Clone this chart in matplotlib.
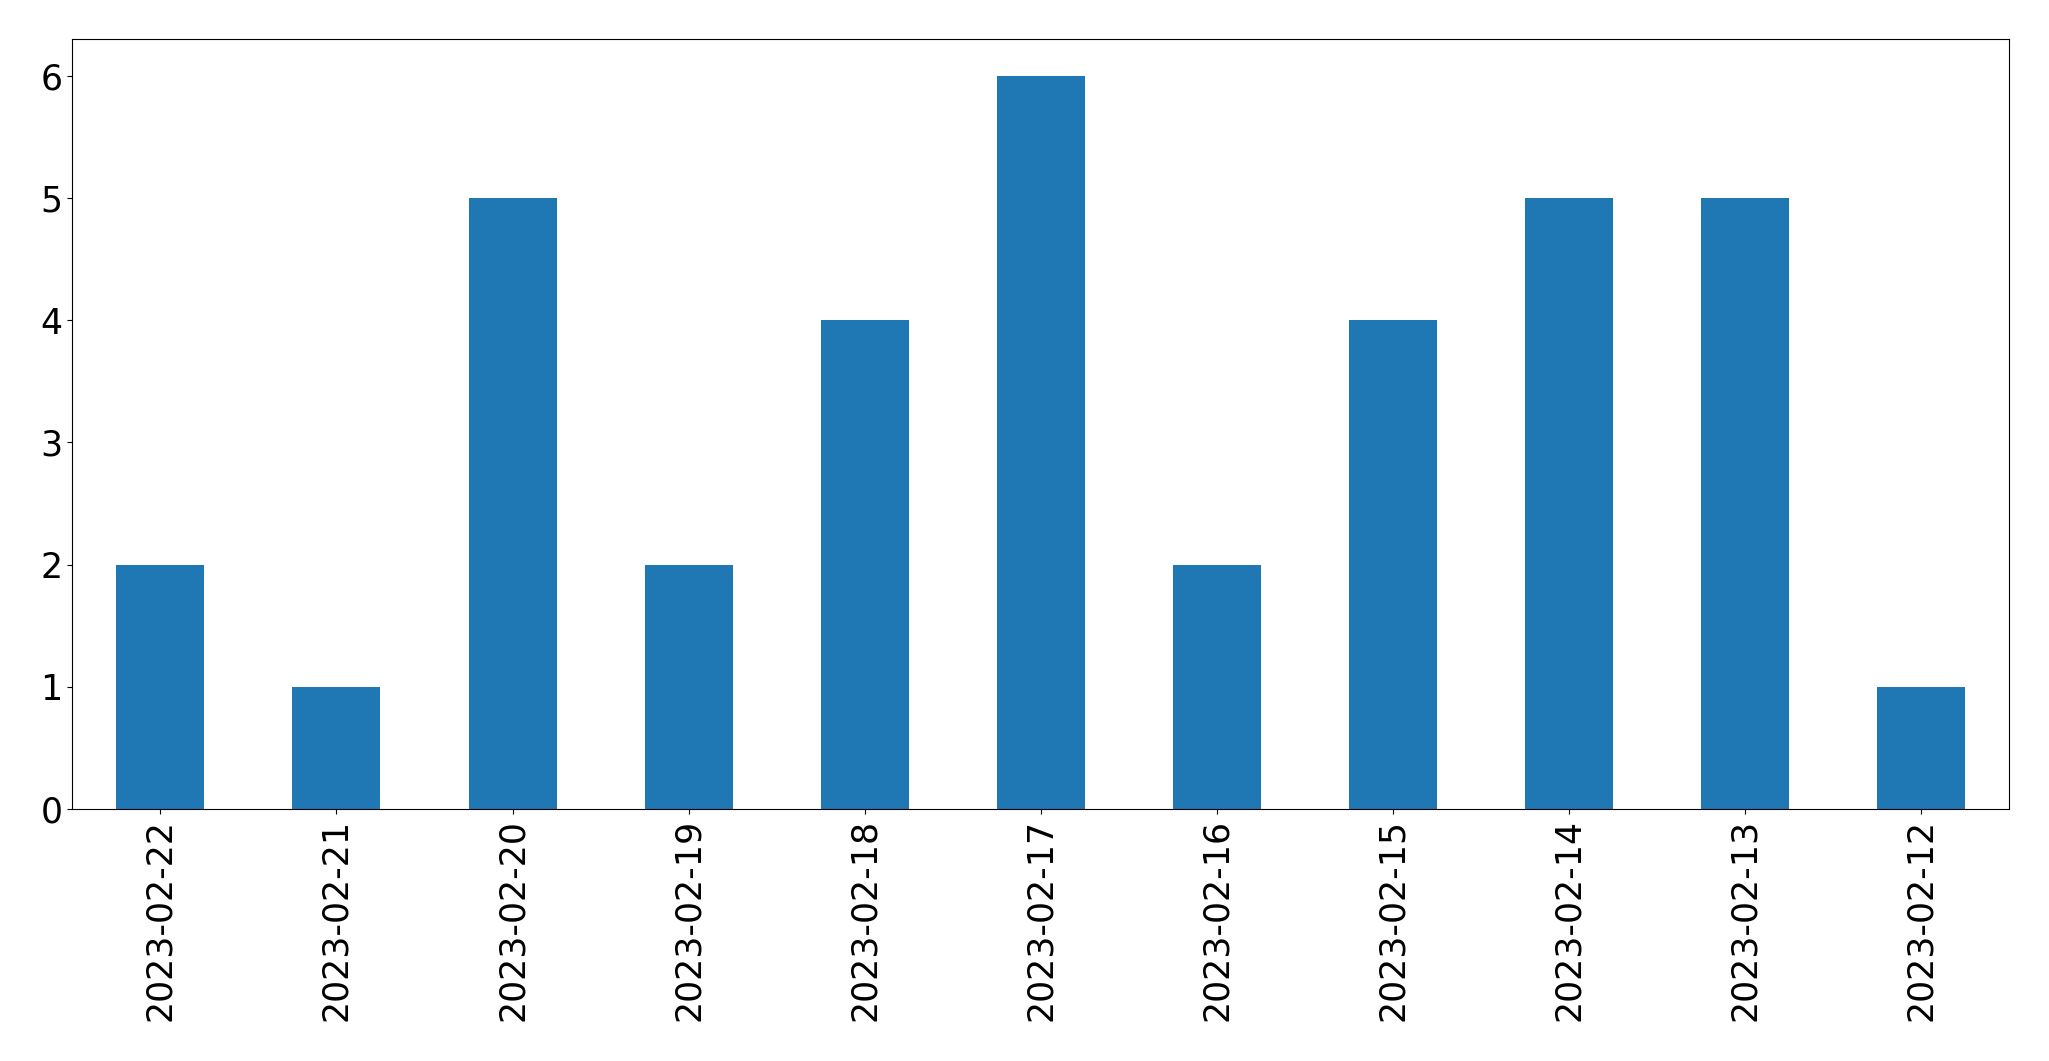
import matplotlib
matplotlib.use("Agg")
import matplotlib.pyplot as plt

dates = ["2023-02-22", "2023-02-21", "2023-02-20", "2023-02-19", "2023-02-18",
         "2023-02-17", "2023-02-16", "2023-02-15", "2023-02-14", "2023-02-13",
         "2023-02-12"]
counts = [2, 1, 5, 2, 4, 6, 2, 4, 5, 5, 1]

fig = plt.figure(figsize=(20.49, 10.61), dpi=100)
ax = fig.add_axes([72.3 / 2049, 1 - 809 / 1061, (2009.3 - 72.3) / 2049, (809 - 39.3) / 1061])
x = list(range(len(dates)))
ax.bar(x, counts, width=0.5, color="#1f77b4")
ax.set_xlim(-0.5, len(dates) - 0.5)
ax.set_ylim(0, max(counts) * 1.05)
ax.set_xticks(x)
ax.set_xticklabels(dates, rotation=90, fontsize=25)
ax.tick_params(axis="y", labelsize=25)
fig.savefig("out.png", dpi=100)
